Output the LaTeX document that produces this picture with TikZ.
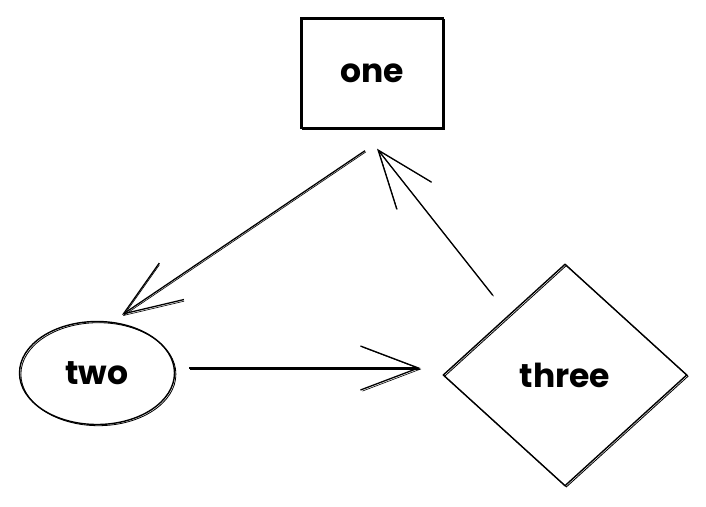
\documentclass[tikz,border=0pt]{standalone}
\usepackage{fontspec}
\setmainfont{Poppins}
\usepackage{tikz}
\usetikzlibrary{arrows.meta,shapes.geometric}
\tikzset{
  every node/.style={font=\fontsize{33}{36}\selectfont\bfseries,text=black},
  sketch/.style={draw=black,line width=1.4pt,inner sep=0pt,
    postaction={draw,line width=0.8pt,transform canvas={xshift=1.4pt,yshift=-1.2pt}}},
  boxnode/.style={sketch,rectangle,minimum width=142pt,minimum height=110pt},
  ovalnode/.style={sketch,ellipse,minimum width=155pt,minimum height=103pt},
  rhombnode/.style={sketch,diamond,minimum width=244pt,minimum height=222pt},
  arrow/.style={-{Straight Barb[length=58pt,width=44pt]},draw=black,line width=1.3pt,
    postaction={draw,line width=0.6pt,transform canvas={xshift=1pt,yshift=-1.1pt}}}
}
\begin{document}
\begin{tikzpicture}[x=1pt,y=-1pt]
  \useasboundingbox (0,0) rectangle (706,506);

  \node[boxnode] (one) at (372,73) {one};
  \node[ovalnode] (two) at (97,373) {two};
  \node[rhombnode] (three) at (565,375) {three};

  \draw[arrow] ([xshift=-7pt,yshift=-22pt]one.south) -- ([xshift=25pt,yshift=6pt]two.north);
  \draw[arrow] ([xshift=14pt,yshift=5pt]two.east) -- ([xshift=-22pt,yshift=7pt]three.west);
  \draw[arrow] ([xshift=-11pt,yshift=24pt]three.north west) -- ([xshift=5pt,yshift=-20pt]one.south);
\end{tikzpicture}
\end{document}
